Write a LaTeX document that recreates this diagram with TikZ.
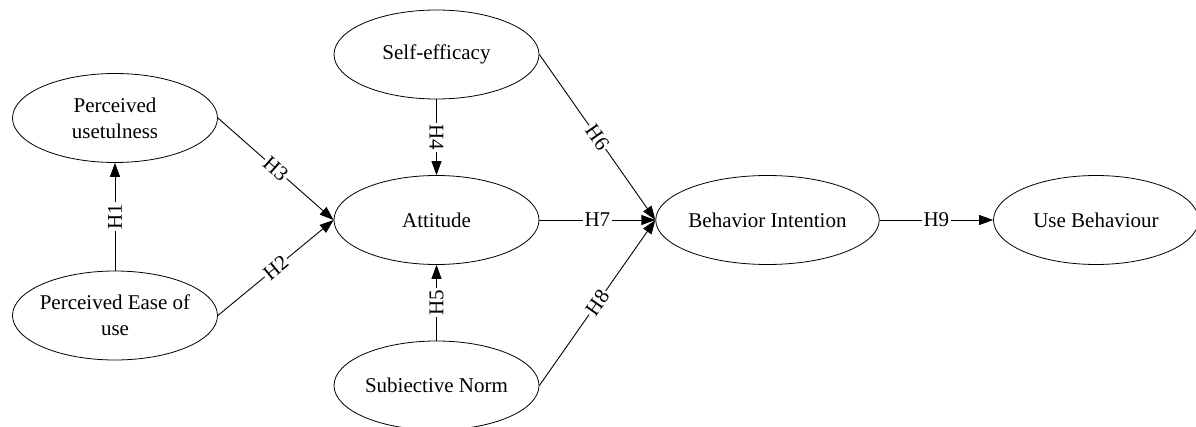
\documentclass[tikz,border=0pt]{standalone}
\usepackage{fontspec}
\setmainfont{Liberation Serif}
\usetikzlibrary{shapes.geometric,arrows.meta}

\tikzset{
  construct/.style={draw, ellipse, line width=0.8pt, minimum width=205pt,
    minimum height=89pt, inner sep=0pt, align=center,
    font=\fontsize{21}{26}\selectfont},
  path/.style={draw, line width=0.9pt, -{Triangle[length=14pt,width=10pt]}},
  hyp/.style={midway, sloped, allow upside down, fill=white, inner sep=1.5pt,
    font=\fontsize{21}{26}\selectfont}
}

\begin{document}
\begin{tikzpicture}[x=1pt, y=-1pt]
  \useasboundingbox (0,0) rectangle (1196,427);
  \clip (0,0) rectangle (1196,427);

  % constructs
  \node[construct] (pu)   at (115,118)  {Perceived\\usetulness};
  \node[construct, inner xsep=-4pt] (peou) at (115,315.5){Perceived Ease of\\use};
  \node[construct] (se)   at (436.5,54.5) {Self-efficacy};
  \node[construct] (att)  at (436.5,220) {Attitude};
  \node[construct] (sn)   at (436.5,385.5) {Subiective Norm};
  \node[construct] (bi)   at (767.5,220) {Behavior Intention};
  \node[construct] (ub)   at (1096,220)  {Use Behaviour};

  % hypothesised paths
  \draw[path] (peou.north) -- node[hyp] {H1} (pu.south);
  \draw[path] (peou.east)  -- node[hyp] {H2} (att.west);
  \draw[path] (pu.east)    -- node[hyp] {H3} (att.west);
  \draw[path] (se.south)   -- node[hyp] {H4} (att.north);
  \draw[path] (sn.north)   -- node[hyp] {H5} (att.south);
  \draw[path] (se.east)    -- node[hyp] {H6} (bi.west);
  \draw[path] (att.east)   -- node[hyp] {H7} (bi.west);
  \draw[path] (sn.east)    -- node[hyp] {H8} (bi.west);
  \draw[path] (bi.east)    -- node[hyp] {H9} (ub.west);
\end{tikzpicture}
\end{document}
